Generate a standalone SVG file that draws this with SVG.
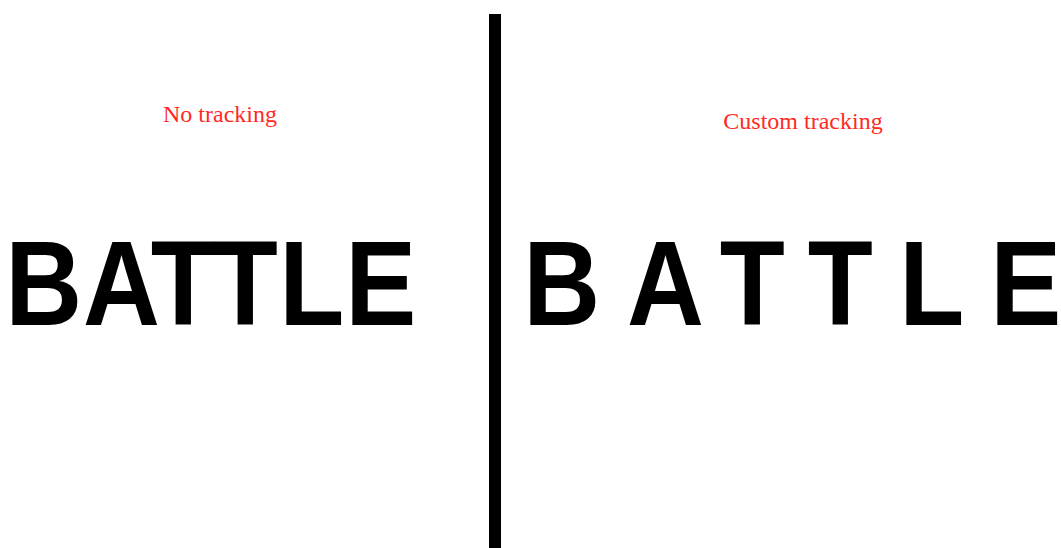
<svg xmlns="http://www.w3.org/2000/svg" width="1061" height="548" viewBox="0 0 1061 548">
<style>
.lbl{font-family:"Liberation Serif","Times New Roman",serif;font-size:24px;fill:#ff2a1f;text-anchor:middle}
.big{font-family:"Liberation Sans",Arial,sans-serif;font-weight:700;font-size:121px;fill:#000}
</style>
<rect width="1061" height="548" fill="#fff"/>
<g id="left">
<text class="lbl" x="220" y="122">No tracking</text>
<text class="big" y="325" transform="scale(0.88 1)"><tspan x="5.9">B</tspan><tspan x="94.3">A</tspan><tspan x="171.3">T</tspan><tspan x="241.7">T</tspan><tspan x="317.3">L</tspan><tspan x="392.3">E</tspan></text>
</g>
<g id="divider">
<rect x="489" y="14" width="12" height="534" fill="#000"/>
</g>
<g id="right">
<text class="lbl" x="803" y="129">Custom tracking</text>
<text class="big" y="325" transform="scale(0.88 1)"><tspan x="594.5">B</tspan><tspan x="712.5">A</tspan><tspan x="817.8">T</tspan><tspan x="917.8">T</tspan><tspan x="1021.8">L</tspan><tspan x="1125.2">E</tspan></text>
</g>
</svg>
